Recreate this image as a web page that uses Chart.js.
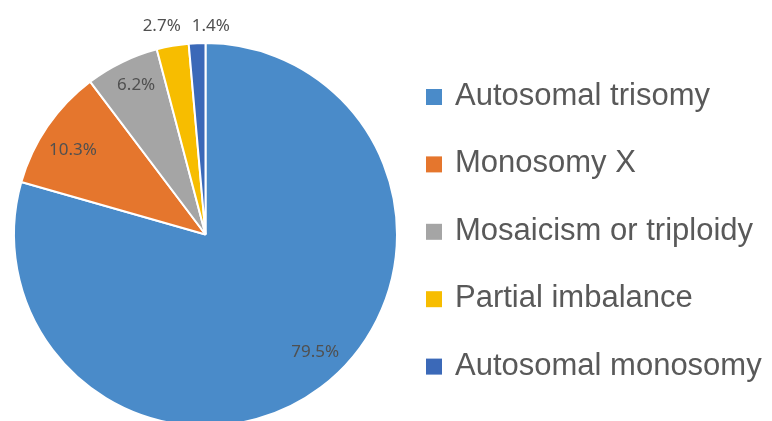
<!DOCTYPE html>
<html>
<head>
<meta charset="utf-8">
<script src="https://cdn.jsdelivr.net/npm/chart.js@4"></script>
<style>
  html, body { margin: 0; padding: 0; background: #fff; overflow: hidden; }
  #wrap { position: relative; width: 772px; height: 470px; }
</style>
</head>
<body>
<div id="wrap"><canvas id="chart"></canvas></div>
<script>
// 데이터
const categories = ['Autosomal trisomy', 'Monosomy X', 'Mosaicism or triploidy', 'Partial imbalance', 'Autosomal monosomy'];
const percents = [79.5, 10.3, 6.2, 2.7, 1.4];
const valueLabels = ['79.5%', '10.3%', '6.2%', '2.7%', '1.4%'];
const sliceColors = ['#4a8bc9', '#e5762d', '#a5a5a5', '#f7bd00', '#3b69b8'];

// 라벨 위치 (반지름 비율, 각도 보정)
const labelRadius = [0.84, 0.82, 0.86, 1.11, 1.09];
const labelShift = [-6, -2, 1, -2, 4];

// 퍼센트 라벨
const pieLabels = {
    id: 'pieLabels',
    afterDatasetsDraw(chart) {
        const ctx = chart.ctx;
        const arcs = chart.getDatasetMeta(0).data;
        ctx.save();
        ctx.font = '17px "Noto Sans", sans-serif';
        ctx.fillStyle = '#505050';
        ctx.textAlign = 'center';
        ctx.textBaseline = 'middle';
        arcs.forEach((arc, i) => {
            const p = arc.getProps(['x', 'y', 'startAngle', 'endAngle', 'outerRadius'], true);
            const mid = (p.startAngle + p.endAngle) / 2 + labelShift[i] * Math.PI / 180;
            const r = p.outerRadius * labelRadius[i];
            ctx.fillText(valueLabels[i], p.x + Math.cos(mid) * r, p.y + Math.sin(mid) * r);
        });
        ctx.restore();
    }
};

// 오른쪽 범례
const sideLegend = {
    id: 'sideLegend',
    afterDraw(chart) {
        const ctx = chart.ctx;
        ctx.save();
        ctx.font = '31px "Liberation Sans", Arial, sans-serif';
        ctx.textBaseline = 'alphabetic';
        ctx.textAlign = 'left';
        chart.data.labels.forEach((label, i) => {
            const base = 105 + i * 67.4;
            ctx.fillStyle = chart.data.datasets[0].backgroundColor[i];
            ctx.fillRect(426, base - 16, 16, 16);
            ctx.fillStyle = '#595959';
            ctx.fillText(label, 455, base);
        });
        ctx.restore();
    }
};

const chart = document.getElementById('chart').getContext('2d');
new Chart(chart, {
    type: 'pie',
    data: {
        labels: categories,
        datasets: [{
            data: percents,
            backgroundColor: sliceColors,
            borderColor: '#ffffff',
            borderWidth: 2
        }]
    },
    options: {
        responsive: true,
        maintainAspectRatio: false,
        animation: false,
        layout: {
            padding: { left: 13, right: 374, top: 42, bottom: 43 }
        },
        plugins: {
            legend: { display: false },
            tooltip: { enabled: false }
        }
    },
    plugins: [pieLabels, sideLegend]
});
</script>
</body>
</html>
